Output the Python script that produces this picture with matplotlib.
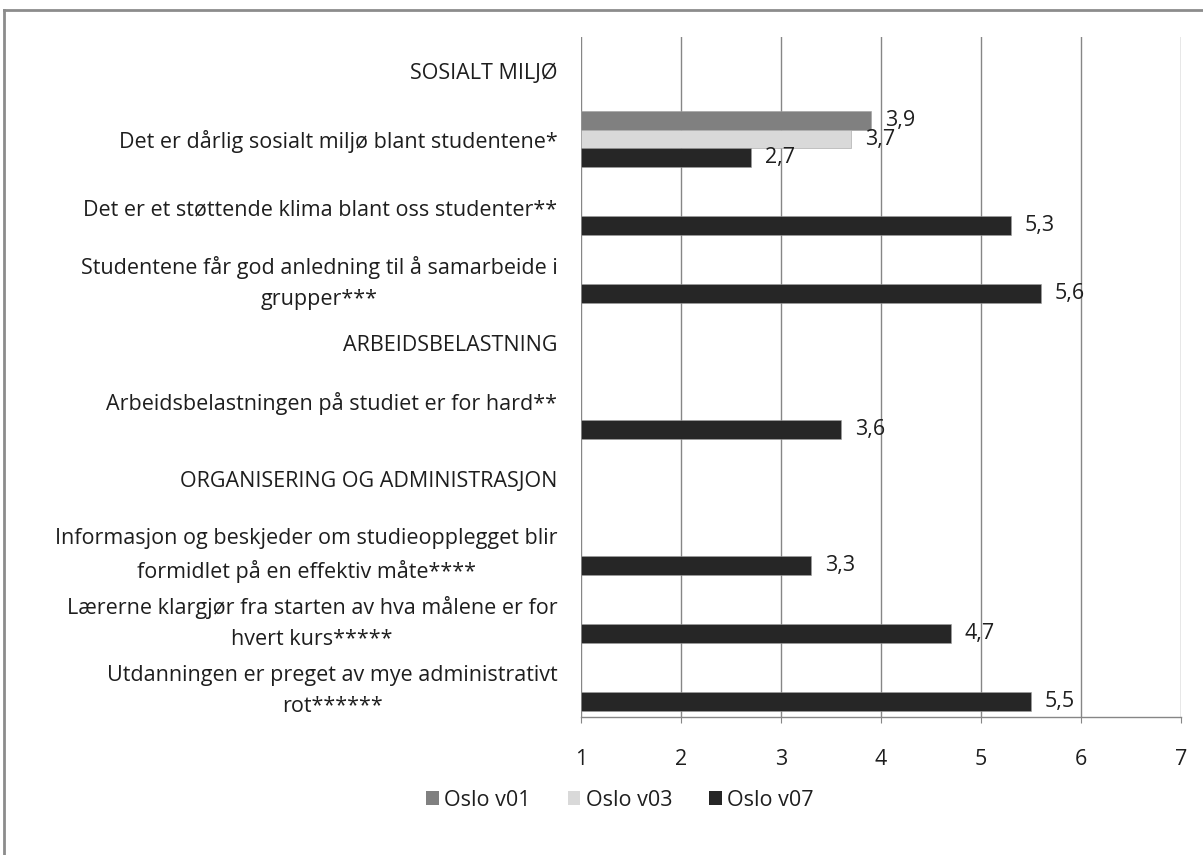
import numpy as np
import matplotlib
matplotlib.use("Agg")
import matplotlib.pyplot as plt
from matplotlib.lines import Line2D
from matplotlib.patches import Patch

# Survey items (top to bottom); section headers have no values
categories = [
    "SOSIALT MILJØ",
    "Det er dårlig sosialt miljø blant studentene*",
    "Det er et støttende klima blant oss studenter**",
    "Studentene får god anledning til å samarbeide i\ngrupper***",
    "ARBEIDSBELASTNING",
    "Arbeidsbelastningen på studiet er for hard**\n",
    "ORGANISERING OG ADMINISTRASJON",
    "Informasjon og beskjeder om studieopplegget blir\nformidlet på en effektiv måte****",
    "Lærerne klargjør fra starten av hva målene er for\nhvert kurs*****",
    "Utdanningen er preget av mye administrativt\nrot******",
]

nan = np.nan
oslo_v01 = [nan, 3.9, nan, nan, nan, nan, nan, nan, nan, nan]
oslo_v03 = [nan, 3.7, nan, nan, nan, nan, nan, nan, nan, nan]
oslo_v07 = [nan, 2.7, 5.3, 5.6, nan, 3.6, nan, 3.3, 4.7, 5.5]

series_names = ["Oslo v01", "Oslo v03", "Oslo v07"]
series_colors = ["#808080", "#d9d9d9", "#262626"]
x_ticks = [1, 2, 3, 4, 5, 6, 7]

FONT = "Open Sans"
FS = 15.5
TEXT = "#1e1e1e"
GRID = "#868686"

W, H = 1203, 855
fig = plt.figure(figsize=(W / 100, H / 100), dpi=100)
ax = fig.add_axes([581 / W, 1 - 717 / H, 600 / W, 680 / H])

y = np.arange(len(categories))
bar_h = 0.27
offsets = [-bar_h, 0.0, bar_h]
baseline = x_ticks[0]

for vals, off, col in zip([oslo_v01, oslo_v03, oslo_v07], offsets, series_colors):
    v = np.array(vals, dtype=float)
    bars = ax.barh(y + off, v - baseline, left=baseline, height=bar_h,
                   color=col, edgecolor="#a0a0a0", linewidth=0.4, zorder=3)
    labels = ["" if np.isnan(a) else f"{a:.1f}".replace(".", ",") for a in v]
    ax.bar_label(bars, labels=labels, padding=10, fontsize=FS,
                 fontfamily=FONT, color=TEXT)

ax.set_xlim(x_ticks[0], x_ticks[-1])
ax.set_ylim(len(categories) - 0.5, -0.5)
ax.set_xticks(x_ticks)
ax.set_xticklabels([str(t) for t in x_ticks], fontsize=FS, fontfamily=FONT, color=TEXT)
ax.set_yticks(y)
ax.set_yticklabels(categories, fontsize=FS, fontfamily=FONT, color=TEXT,
                   multialignment="center", linespacing=1.65)

ax.tick_params(axis="y", length=0, pad=17)
ax.tick_params(axis="x", length=4, color=GRID, pad=19)
ax.grid(axis="x", color=GRID, linewidth=1, zorder=0)
ax.set_axisbelow(True)
for side in ["top", "right", "left"]:
    ax.spines[side].set_visible(False)
ax.spines["bottom"].set_color(GRID)
ax.spines["bottom"].set_linewidth(1)

handles = [Patch(facecolor=c, edgecolor="none") for c in series_colors]
fig.legend(handles, series_names, loc="center", ncol=3, frameon=False,
           bbox_to_anchor=(620 / W, 1 - 800 / H), handlelength=0.6, handleheight=0.6,
           handletextpad=0.25, columnspacing=1.7, prop={"family": FONT, "size": FS},
           labelcolor=TEXT)

# chart frame: top and left edges
fig.add_artist(Line2D([4 / W, 1], [1 - 10 / H, 1 - 10 / H], color="#8c8c8c",
                      linewidth=2, transform=fig.transFigure))
fig.add_artist(Line2D([4 / W, 4 / W], [0, 1 - 10 / H], color="#8c8c8c",
                      linewidth=2, transform=fig.transFigure))

fig.savefig("out.png", dpi=100, facecolor="white")
